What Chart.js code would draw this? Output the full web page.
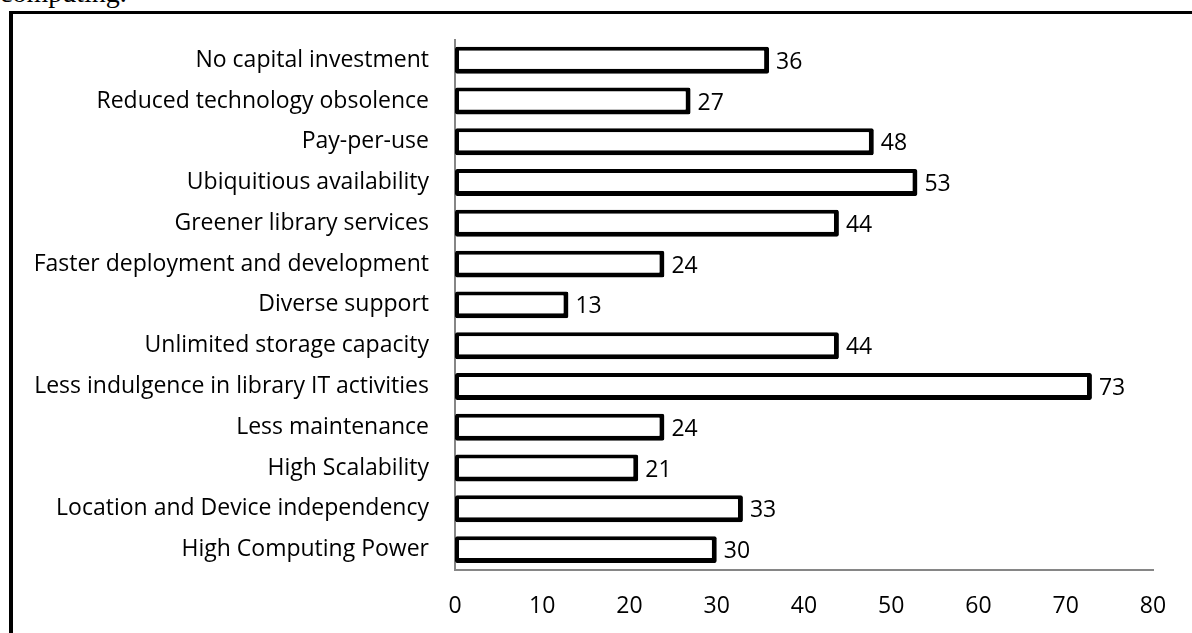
<!DOCTYPE html>
<html>
<head>
<meta charset="utf-8">
<script src="https://cdn.jsdelivr.net/npm/chart.js@4.4.1/dist/chart.umd.min.js"></script>
<style>
  html, body { margin: 0; padding: 0; background: #fff; }
  #wrap { position: relative; width: 1192px; height: 633px; overflow: hidden; }
  #cap { position: absolute; left: 0; top: -23px; font: 28px "Liberation Serif", serif; color: #000; }
  #frameTop { position: absolute; left: 9px; top: 11px; width: 1183px; height: 3px; background: #000; }
  #frameLeft { position: absolute; left: 9px; top: 11px; width: 4px; height: 622px; background: #000; }
  canvas { position: absolute; left: 0; top: 0; }
</style>
</head>
<body>
<div id="wrap">
  <div id="cap">computing.</div>
  <div id="frameTop"></div>
  <div id="frameLeft"></div>
  <canvas id="chartBar" width="1192" height="633"></canvas>
</div>
<script>
const categories = [
    "No capital investment",
    "Reduced technology obsolence",
    "Pay-per-use",
    "Ubiquitious availability",
    "Greener library services",
    "Faster deployment and development",
    "Diverse support",
    "Unlimited storage capacity",
    "Less indulgence in library IT activities",
    "Less maintenance",
    "High Scalability",
    "Location and Device independency",
    "High Computing Power"
];
const values = [36, 27, 48, 53, 44, 24, 13, 44, 73, 24, 21, 33, 30];
const xMin = 0;
const xMax = 80;
const xStep = 10;

const labelFont = { family: "'Open Sans', sans-serif", size: 23 };

// value labels at the end of each bar
const valueLabels = {
    id: "valueLabels",
    afterDatasetsDraw(chart) {
        const ctx = chart.ctx;
        const meta = chart.getDatasetMeta(0);
        ctx.save();
        ctx.font = labelFont.size + "px " + labelFont.family;
        ctx.fillStyle = "#000";
        ctx.textAlign = "left";
        ctx.textBaseline = "middle";
        meta.data.forEach((bar, i) => {
            ctx.fillText(String(values[i]), bar.x + 7, bar.y + 2);
        });
        ctx.restore();
    }
};

const ctxBar = document.getElementById("chartBar").getContext("2d");
new Chart(ctxBar, {
    type: "bar",
    data: {
        labels: categories,
        datasets: [{
            data: values,
            backgroundColor: "#ffffff",
            borderColor: "#000000",
            borderWidth: { top: 4, left: 4, right: 5, bottom: 5 },
            borderRadius: 2,
            borderSkipped: false,
            categoryPercentage: 1,
            barPercentage: 0.66,
        }],
    },
    options: {
        indexAxis: "y",
        responsive: false,
        animation: false,
        devicePixelRatio: 1,
        layout: { padding: { top: 38, right: 39, bottom: 0, left: 0 } },
        plugins: {
            legend: { display: false },
            tooltip: { enabled: false },
        },
        scales: {
            x: {
                min: xMin,
                max: xMax,
                ticks: { stepSize: xStep, color: "#000", font: labelFont, padding: 23 },
                grid: { display: false, drawTicks: false },
                border: { display: true, color: "#868686", width: 2 },
                afterFit(scale) { scale.height = 63; },
            },
            y: {
                ticks: { color: "#000", font: labelFont, padding: 26, autoSkip: false },
                grid: { display: false, drawTicks: false },
                border: { display: true, color: "#868686", width: 2 },
                afterFit(scale) { scale.width = 455; },
            },
        },
    },
    plugins: [valueLabels],
});
</script>
</body>
</html>
